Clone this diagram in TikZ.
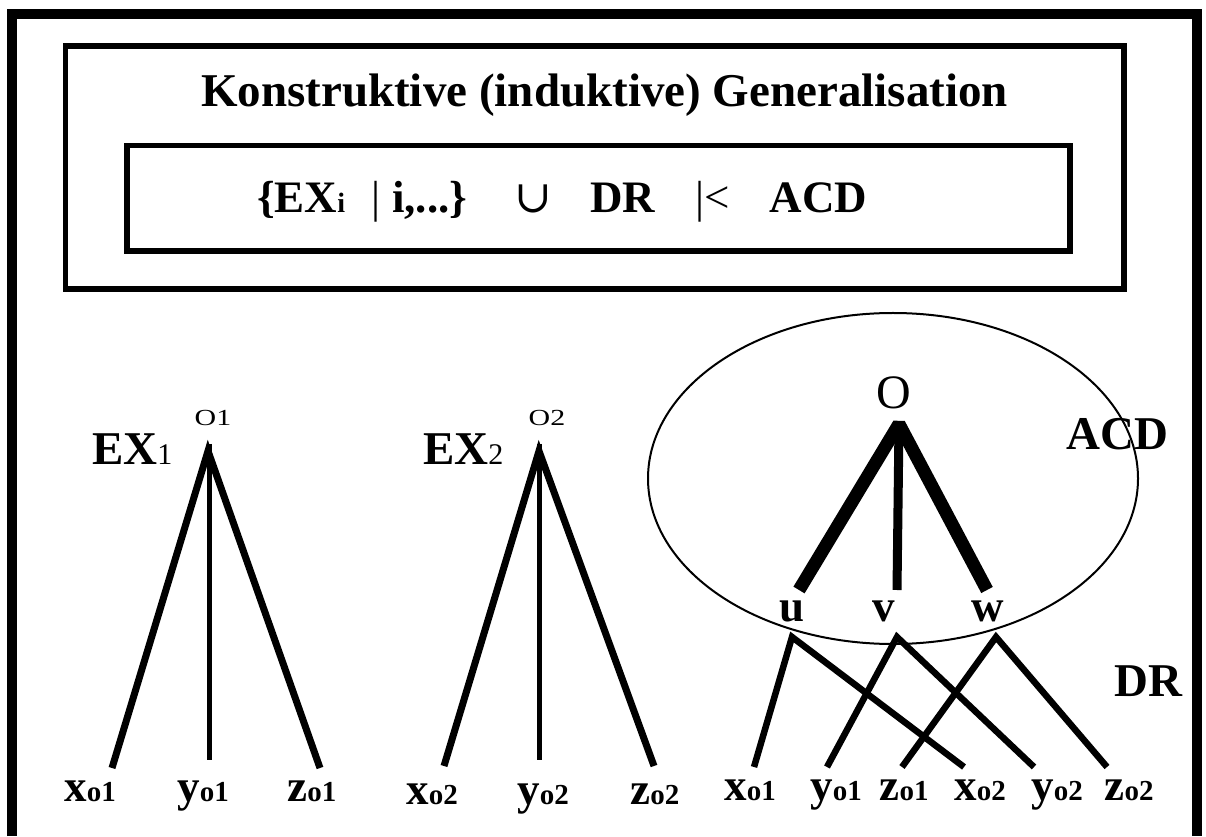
\documentclass[tikz,border=0pt]{standalone}
\usepackage{fontspec}
\usepackage{graphicx}
\setmainfont{Liberation Serif}
\newfontfamily\symfont{DejaVu Serif}
\newcommand{\leaflbl}[2]{{\bfseries\fontsize{45}{45}\selectfont #1}{\bfseries\fontsize{29}{29}\selectfont #2}}

\begin{document}
\begin{tikzpicture}[x=1pt, y=1pt,
    frame/.style={line width=5.5pt},
    edge/.style={line width=7pt, line join=miter},
    stem/.style={line width=5pt},
    dredge/.style={line width=6.5pt, line join=miter},
    bold/.style={font=\bfseries\fontsize{47}{47}\selectfont, inner sep=0pt, anchor=base},
    leaf/.style={inner sep=0pt, anchor=base}]
    \useasboundingbox (0,0) rectangle (1206,836);
    \draw[line width=10pt] (12,0) -- (12,822) -- (1197,822) -- (1197,0);
    \draw[frame] (65.5,547) rectangle (1124,790);
    \draw[frame] (127,585) rectangle (1070,690.5);

    \node[bold] (title) at (604.5,729) {Konstruktive (induktive) Generalisation};
    \node[font=\fontsize{45}{45}\selectfont, inner sep=0pt, anchor=base west] (rule) at (257,623)
        {\textbf{\{EX}{\bfseries\fontsize{28}{28}\selectfont i}\hspace{26.5pt}|\hspace{11.5pt}\textbf{i,...\}}\hspace{47pt}{\symfont ∪}\hspace{38pt}\textbf{DR}\hspace{40pt}|<\hspace{39.6pt}\textbf{ACD}};

    % first example
    \node[leaf, font=\fontsize{23}{23}\selectfont] (o1) at (213,410) {\scalebox{1.3}[1]{O1}};
    \node[bold, anchor=base west] (ex1) at (92,371) {EX{\mdseries\fontsize{30}{30}\selectfont 1}};
    \coordinate (r1) at (208,385);
    \coordinate (r1x) at (112,68);
    \coordinate (r1y) at (209,76);
    \coordinate (r1z) at (320,68);
    \draw[edge] (r1x) -- (r1) -- (r1z);
    \draw[stem] (209,392) -- (r1y);
    \node[leaf] (xa) at (90,35) {\leaflbl{x}{o1}};
    \node[leaf] (ya) at (203,35) {\leaflbl{y}{o1}};
    \node[leaf] (za) at (312,35) {\leaflbl{z}{o1}};

    % second example
    \node[leaf, font=\fontsize{23}{23}\selectfont] (o2) at (547,410) {\scalebox{1.3}[1]{O2}};
    \node[bold, anchor=base west] (ex2) at (423,371) {EX{\mdseries\fontsize{30}{30}\selectfont 2}};
    \coordinate (r2) at (539,385);
    \coordinate (r2x) at (444,70);
    \coordinate (r2y) at (539,76);
    \coordinate (r2z) at (654,70);
    \draw[edge] (r2x) -- (r2) -- (r2z);
    \draw[stem] (539,392) -- (r2y);
    \node[leaf] (xb) at (432,32) {\leaflbl{x}{o2}};
    \node[leaf] (yb) at (543,32) {\leaflbl{y}{o2}};
    \node[leaf] (zb) at (655,32) {\leaflbl{z}{o2}};

    % ACD
    \draw[line width=2pt] (893,357.5) ellipse [x radius=245, y radius=165.5];
    \node[leaf, font=\fontsize{48}{48}\selectfont] (o) at (894,427) {O};
    \node[bold, anchor=base west] (acd) at (1066,387) {ACD};
    \coordinate (top) at (899,412);
    \coordinate (tu) at (799,246);
    \coordinate (tv) at (897,246);
    \coordinate (tw) at (987,246);
    \draw[line width=13pt, line join=bevel] (tu) -- (top) -- (tw);
    \draw[line width=9pt] (top) -- (tv);
    \node[leaf, font=\bfseries\fontsize{45}{45}\selectfont] (lu) at (792,215) {u};
    \node[leaf, font=\bfseries\fontsize{45}{45}\selectfont] (lv) at (884,215) {v};
    \node[leaf, font=\bfseries\fontsize{45}{45}\selectfont] (lw) at (988,215) {w};

    % DR
    \node[bold, anchor=base west] (dr) at (1114,140) {DR};
    \coordinate (du) at (792,199);
    \coordinate (dv) at (897,199);
    \coordinate (dw) at (996,199);
    \coordinate (ex) at (754,69);
    \coordinate (ey) at (827,69);
    \coordinate (ez) at (902,69);
    \coordinate (fx) at (964,69);
    \coordinate (fy) at (1034,69);
    \coordinate (fz) at (1107,69);
    \draw[dredge] (ex) -- (du) -- (fx);
    \draw[dredge] (ey) -- (dv) -- (fy);
    \draw[dredge] (ez) -- (dw) -- (fz);
    \node[leaf] (xc) at (750,36) {\leaflbl{x}{o1}};
    \node[leaf] (yc) at (836,36) {\leaflbl{y}{o1}};
    \node[leaf] (zc) at (904,36) {\leaflbl{z}{o1}};
    \node[leaf] (xd) at (980,36) {\leaflbl{x}{o2}};
    \node[leaf] (yd) at (1057,36) {\leaflbl{y}{o2}};
    \node[leaf] (zd) at (1129,36) {\leaflbl{z}{o2}};
\end{tikzpicture}
\end{document}
